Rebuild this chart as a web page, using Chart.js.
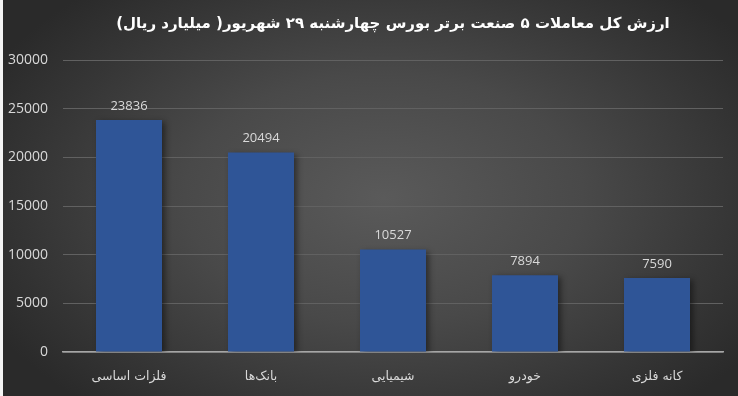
<!DOCTYPE html>
<html>
<head>
<meta charset="utf-8">
<script src="https://cdn.jsdelivr.net/npm/chart.js@4.4.0/dist/chart.umd.min.js"></script>
<style>
  html, body { margin: 0; padding: 0; }
  body { width: 738px; height: 396px; overflow: hidden; position: relative; }
  .chart-cont {
    position: absolute; left: 0; top: 0; width: 738px; height: 396px;
    background: radial-gradient(ellipse 60% 70% at 52% 50%, #5a5a5a 0%, #494949 45%, #353535 80%, #2a2a2a 100%);
  }
  .sheet-strip { position: absolute; left: 0; top: 0; width: 3px; height: 396px; background: #f4f4f4; }
</style>
</head>
<body>
<div class="chart-cont"><canvas id="industries-chart" width="738" height="396"></canvas></div>
<div class="sheet-strip"></div>
<script>
const titleText = "ارزش کل معاملات ۵ صنعت برتر بورس چهارشنبه ۲۹ شهریور( میلیارد ریال)";
const industries = ["فلزات اساسی", "بانک‌ها", "شیمیایی", "خودرو", "کانه فلزی"];
const tradeValues = [23836, 20494, 10527, 7894, 7590];
const yTicks = [0, 5000, 10000, 15000, 20000, 25000, 30000];
const barColor = "#2f5597";
const textColor = "#d9d9d9";

// title drawn over the plot area centre, the way excel places it
const titlePlugin = {
    id: "plotTitle",
    afterDraw: (chart) => {
        const ctx = chart.ctx;
        const area = chart.chartArea;
        ctx.save();
        ctx.fillStyle = "#ffffff";
        ctx.font = "bold 15px 'DejaVu Sans'";
        ctx.textAlign = "center";
        ctx.textBaseline = "middle";
        ctx.direction = "rtl";
        ctx.fillText(titleText, (area.left + area.right) / 2, 24);
        ctx.restore();
    }
};

// value labels above each bar
const valueLabels = {
    id: "valueLabels",
    afterDatasetsDraw: (chart) => {
        const ctx = chart.ctx;
        const meta = chart.getDatasetMeta(0);
        ctx.save();
        ctx.fillStyle = textColor;
        ctx.font = "13px 'Open Sans'";
        ctx.textAlign = "center";
        ctx.textBaseline = "middle";
        meta.data.forEach((bar, i) => {
            ctx.fillText(String(tradeValues[i]), bar.x, bar.y - 14);
        });
        ctx.restore();
    }
};

// soft shadow like the office bar style
const barShadow = {
    id: "barShadow",
    beforeDatasetsDraw: (chart) => {
        chart.ctx.save();
        chart.ctx.shadowColor = "rgba(0,0,0,0.45)";
        chart.ctx.shadowBlur = 6;
        chart.ctx.shadowOffsetX = 3;
        chart.ctx.shadowOffsetY = 2;
    },
    afterDatasetsDraw: (chart) => {
        chart.ctx.restore();
    }
};

new Chart("industries-chart", {
    type: "bar",
    data: {
        labels: industries,
        datasets: [{
            data: tradeValues,
            backgroundColor: barColor,
            borderWidth: 0,
            categoryPercentage: 1,
            barPercentage: 0.5
        }]
    },
    options: {
        responsive: false,
        animation: false,
        events: [],
        layout: { padding: { top: 60, right: 15, bottom: 0, left: 0 } },
        plugins: {
            legend: { display: false },
            tooltip: { enabled: false },
            title: { display: false }
        },
        scales: {
            x: {
                grid: { display: false, drawTicks: false },
                border: { display: true, color: "#a6a6a6", width: 1.5 },
                afterFit: (scale) => { scale.height = 44; },
                ticks: {
                    color: textColor,
                    padding: 17,
                    font: { family: "'DejaVu Sans'", size: 12.5 }
                }
            },
            y: {
                min: 0,
                max: 30000,
                afterFit: (scale) => { scale.width = 63; },
                afterBuildTicks: (scale) => { scale.ticks = yTicks.map(v => ({ value: v })); },
                grid: { color: "#616161", lineWidth: 1, drawTicks: false },
                border: { display: false },
                ticks: {
                    color: textColor,
                    padding: 15,
                    font: { family: "'Open Sans'", size: 14 },
                    callback: (value) => String(value)
                }
            }
        }
    },
    plugins: [barShadow, valueLabels, titlePlugin]
});
</script>
</body>
</html>
